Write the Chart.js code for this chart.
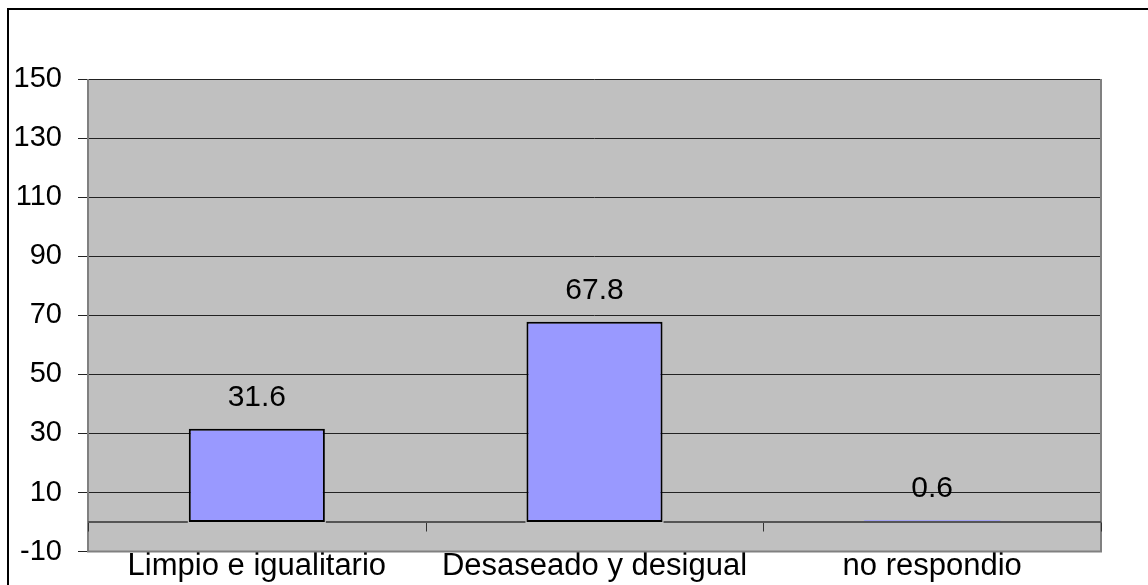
<!DOCTYPE html>
<html>
<head>
<meta charset="utf-8">
<script src="https://cdn.jsdelivr.net/npm/chart.js@4/dist/chart.umd.min.js"></script>
<style>
html,body{margin:0;padding:0;background:#fff;}
canvas{display:block;}
</style>
</head>
<body>
<canvas id="c" width="1148" height="585"></canvas>
<script>
const categories = ["Limpio e igualitario", "Desaseado y desigual", "no respondio"];
const values = [31.6, 67.8, 0.6];
const yTicks = [-10, 10, 30, 50, 70, 90, 110, 130, 150];

const FONT = "'Liberation Sans', Arial, sans-serif";

const framePlugin = {
  id: 'frame',
  beforeDraw(chart) {
    const ctx = chart.ctx, a = chart.chartArea;
    ctx.save();
    ctx.fillStyle = '#ffffff';
    ctx.fillRect(0, 0, chart.width, chart.height);
    ctx.strokeStyle = '#000';
    ctx.lineWidth = 2;
    ctx.beginPath();
    ctx.moveTo(8, chart.height + 5);
    ctx.lineTo(8, 9);
    ctx.lineTo(chart.width + 5, 9);
    ctx.stroke();
    ctx.fillStyle = '#C0C0C0';
    ctx.fillRect(a.left, a.top, a.right - a.left, a.bottom - a.top);
    ctx.restore();
  },
  beforeDatasetsDraw(chart) {
    const ctx = chart.ctx, a = chart.chartArea;
    const y = chart.scales.y;
    ctx.save();
    ctx.strokeStyle = '#808080';
    ctx.lineWidth = 2;
    ctx.beginPath();
    ctx.moveTo(a.left, a.top);
    ctx.lineTo(a.left, a.bottom);
    ctx.lineTo(a.right, a.bottom);
    ctx.lineTo(a.right, a.top);
    ctx.stroke();
    const y0 = Math.round(y.getPixelForValue(0)) + 0.5;
    ctx.strokeStyle = '#333';
    ctx.lineWidth = 1;
    const n = categories.length;
    for (let i = 0; i <= n; i++) {
      const px = Math.round(a.left + (a.right - a.left) * i / n) + 0.5;
      ctx.beginPath();
      ctx.moveTo(px, y0);
      ctx.lineTo(px, y0 + 9);
      ctx.stroke();
    }
    ctx.restore();
  },
  afterDatasetsDraw(chart) {
    const ctx = chart.ctx, a = chart.chartArea;
    const y = chart.scales.y;
    const meta = chart.getDatasetMeta(0);
    ctx.save();
    const y0 = Math.round(y.getPixelForValue(0));
    const gaps = [];
    meta.data.forEach(bar => {
      if (Math.abs(bar.base - bar.y) > 4) gaps.push([bar.x - bar.width / 2 - 1, bar.x + bar.width / 2 + 1]);
    });
    gaps.sort((p, q) => p[0] - q[0]);
    ctx.strokeStyle = '#555555';
    ctx.lineWidth = 2;
    let start = a.left;
    ctx.beginPath();
    gaps.forEach(g => { ctx.moveTo(start, y0); ctx.lineTo(g[0], y0); start = g[1]; });
    ctx.moveTo(start, y0); ctx.lineTo(a.right, y0);
    ctx.stroke();
    ctx.fillStyle = '#000';
    ctx.font = '30px ' + FONT;
    ctx.textAlign = 'center';
    ctx.textBaseline = 'alphabetic';
    meta.data.forEach((bar, i) => {
      ctx.fillText(String(values[i]), bar.x, bar.y - 23);
    });
    ctx.restore();
  }
};

new Chart(document.getElementById('c'), {
  type: 'bar',
  data: {
    labels: categories,
    datasets: [{
      data: values,
      backgroundColor: '#9999FF',
      borderColor: '#000000',
      borderWidth: (c) => (Math.abs(values[c.dataIndex]) < 1 ? 0 : 2),
      borderSkipped: false,
      barPercentage: 0.403,
      categoryPercentage: 1.0
    }]
  },
  options: {
    responsive: false,
    animation: false,
    devicePixelRatio: 1,
    layout: { padding: { top: 79, right: 47, left: 0, bottom: 0 } },
    plugins: { legend: { display: false }, tooltip: { enabled: false } },
    scales: {
      x: {
        grid: { display: false, drawTicks: false },
        border: { display: false },
        ticks: { color: '#000', font: { family: FONT, size: 31 }, padding: -4, maxRotation: 0, autoSkip: false },
        afterFit(scale) { scale.height = 32; }
      },
      y: {
        min: -10, max: 150,
        afterBuildTicks(scale) { scale.ticks = yTicks.map(v => ({ value: v })); },
        grid: { color: '#222', lineWidth: 1, tickLength: 10, drawTicks: true },
        border: { display: false },
        ticks: { color: '#000', font: { family: FONT, size: 29 }, padding: 16 },
        afterFit(scale) { scale.width = 88; }
      }
    }
  },
  plugins: [framePlugin]
});
</script>
</body>
</html>
